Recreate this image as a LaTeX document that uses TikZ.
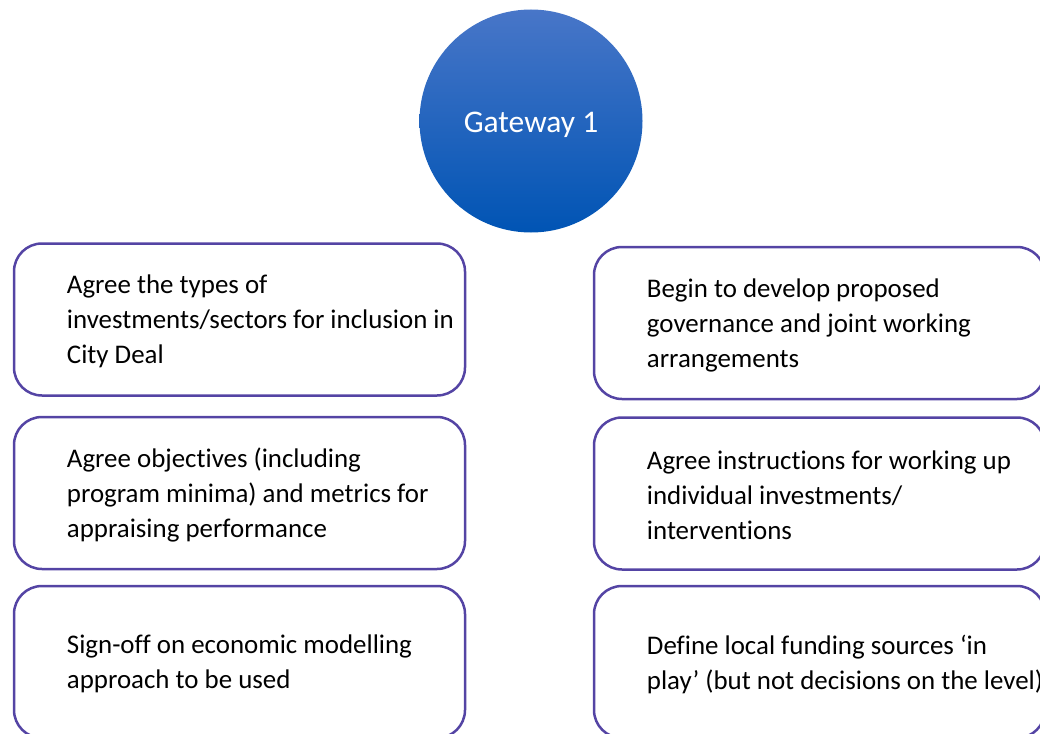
\documentclass[tikz,border=0pt]{standalone}
\usepackage{fontspec}
\setmainfont[Ligatures=NoCommon]{Carlito}
\usetikzlibrary{positioning}
\definecolor{gwtop}{RGB}{72,118,200}
\definecolor{gwbot}{RGB}{0,84,180}
\definecolor{boxline}{RGB}{84,68,164}

\begin{document}
\begin{tikzpicture}[x=1pt,y=-1pt]
\tikzset{gate/.style = {shape=circle,minimum size=223pt,inner sep=0pt,top color=gwtop,bottom color=gwbot,text=white,font=\fontsize{31.5}{36}\selectfont}}
\tikzset{task/.style = {shape=rectangle,draw=boxline,line width=2.5pt,rounded corners=28pt,minimum width=451pt,minimum height=152pt,inner sep=0pt}}
\tikzset{tasktext/.style = {align=left,inner sep=0pt,yshift=-2pt,font=\fontsize{26.9}{35}\selectfont}}
\useasboundingbox (0,0) rectangle (1040,733);

% gateway
\node[gate] (g) at (531,121) {\raisebox{-4pt}[\height][\depth]{Gateway 1}};

% left boxes
\node[task] (l1) at (239.5,319.5) {};
\node[task] (l2) at (239.5,493) {};
\node[task] (l3) at (239.5,662) {};

% right boxes
\node[task] (r1) at (819.5,323) {};
\node[task] (r2) at (819.5,493.5) {};
\node[task] (r3) at (819.5,662) {};

% texts
\node[tasktext, right=54pt of l1.west] (tl1) {Agree the types of\\investments/sectors for inclusion in\\City Deal};
\node[tasktext, right=54pt of l2.west] (tl2) {Agree objectives (including\\program minima) and metrics for\\appraising performance};
\node[tasktext, right=54pt of l3.west] (tl3) {Sign-off on economic modelling\\approach to be used};
\node[tasktext, right=54pt of r1.west] (tr1) {Begin to develop proposed\\governance and joint working\\arrangements};
\node[tasktext, right=54pt of r2.west] (tr2) {Agree instructions for working up\\individual investments/\\interventions};
\node[tasktext, right=54pt of r3.west] (tr3) {Define local funding sources ‘in\\play’ (but not decisions on the level)};

\end{tikzpicture}
\end{document}
